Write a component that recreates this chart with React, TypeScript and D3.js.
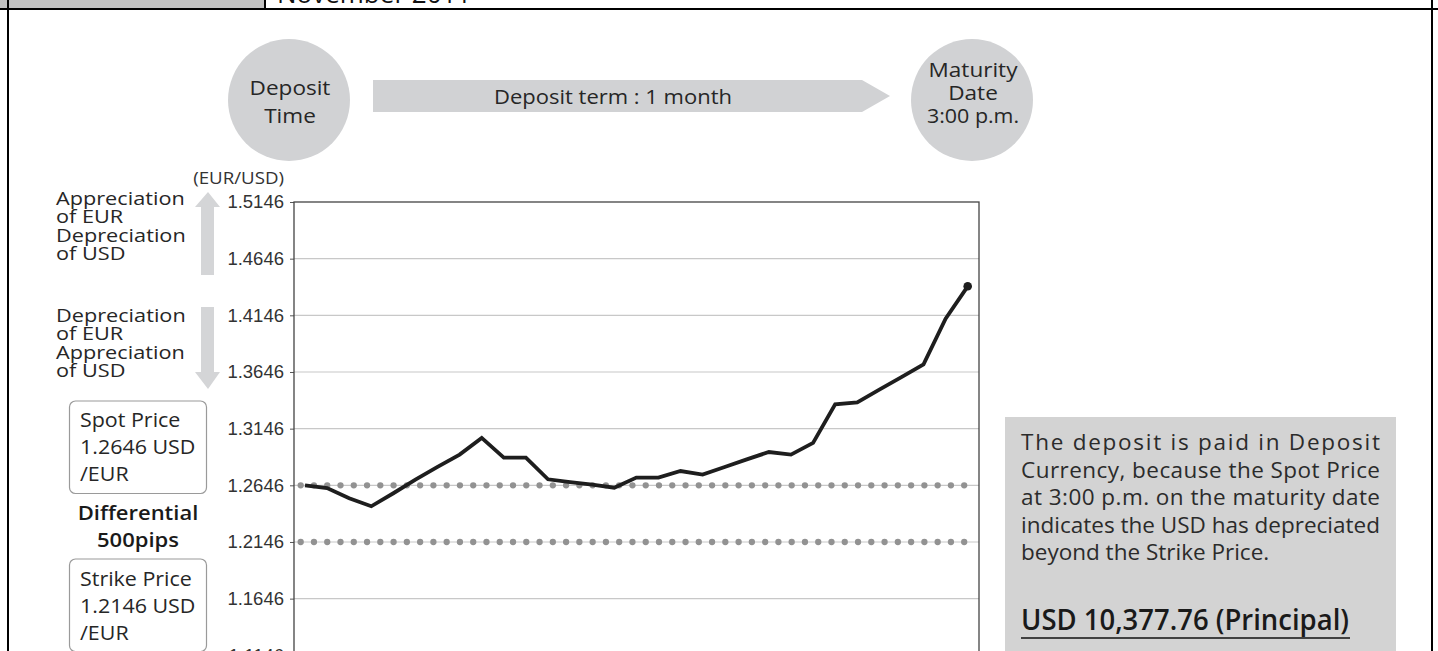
import React, { useEffect, useRef } from 'react';
import * as d3 from 'd3';

// EUR/USD daily rate over the one-month deposit term
const days = [1, 2, 3, 4, 5, 6, 7, 8, 9, 10, 11, 12, 13, 14, 15, 16, 17, 18, 19, 20, 21, 22, 23, 24, 25, 26, 27, 28, 29, 30, 31];
const rates = [
    1.2646, 1.2622, 1.2531, 1.2461, 1.2576, 1.2696, 1.2808, 1.2917, 1.3064, 1.2890,
    1.2890, 1.2699, 1.2675, 1.2652, 1.2625, 1.2714, 1.2714, 1.2772, 1.2740, 1.2808,
    1.2875, 1.2940, 1.2917, 1.3020, 1.3361, 1.3378, 1.3490, 1.3601, 1.3713, 1.4117,
    1.4402,
];
const yTicks = [1.5146, 1.4646, 1.4146, 1.3646, 1.3146, 1.2646, 1.2146, 1.1646, 1.1146];
const spotPrice = 1.2646;
const strikePrice = 1.2146;

const upLabel = ['Appreciation', 'of EUR', 'Depreciation', 'of USD'];
const downLabel = ['Depreciation', 'of EUR', 'Appreciation', 'of USD'];
const spotLabel = ['Spot Price', '1.2646 USD', '/EUR'];
const strikeLabel = ['Strike Price', '1.2146 USD', '/EUR'];
const diffLabel = ['Differential', '500pips'];
const noteLines = [
    'The deposit is paid in Deposit',
    'Currency, because the Spot Price',
    'at 3:00 p.m. on the maturity date',
    'indicates the USD has depreciated',
    'beyond the Strike Price.',
];

const SANS = '"Open Sans", "Noto Sans", sans-serif';
const ARIAL = '"Liberation Sans", Arial, sans-serif';

export default function App() {
    const svgRef = useRef<SVGSVGElement>(null);

    useEffect(() => {
        if (!svgRef.current) return;
        const svg = d3.select(svgRef.current);
        svg.selectAll('*').remove();

        // reference lettering is wider than Open Sans, so stretch it a bit
        const wideText = (t: string, tx: number, ty: number, size: number, anchor = 'start', weight = 400, fill = '#262626', sx = 1.1) => {
            svg.append('g').attr('transform', `translate(${tx},${ty}) scale(${sx},1)`)
                .append('text').attr('text-anchor', anchor)
                .attr('font-family', SANS).attr('font-size', size).attr('font-weight', weight)
                .attr('fill', fill).text(t);
        };

        const plot = { left: 294, right: 979, top: 202 };
        const x = d3.scaleLinear().domain([0, days.length - 1]).range([305, 967.7]);
        const y = d3.scaleLinear().domain([1.1146, 1.5146]).range([655.3, plot.top]);

        // page frame / header
        svg.append('rect').attr('x', 0).attr('y', 0).attr('width', 264).attr('height', 9).attr('fill', '#c0c0c0');
        svg.append('text').attr('x', 277).attr('y', 2.5).attr('font-family', SANS).attr('font-size', 26)
            .attr('fill', '#111').text('November 2011');
        svg.append('line').attr('x1', 265).attr('x2', 265).attr('y1', 0).attr('y2', 9).attr('stroke', '#000').attr('stroke-width', 2);
        svg.append('line').attr('x1', 0).attr('x2', 1438).attr('y1', 9).attr('y2', 9).attr('stroke', '#000').attr('stroke-width', 2);
        svg.append('line').attr('x1', 8).attr('x2', 8).attr('y1', 0).attr('y2', 651).attr('stroke', '#000').attr('stroke-width', 2);
        svg.append('line').attr('x1', 1432).attr('x2', 1432).attr('y1', 0).attr('y2', 651).attr('stroke', '#000').attr('stroke-width', 2);

        // timeline: circles and term arrow
        const circleFill = '#d1d2d4';
        svg.append('circle').attr('cx', 289).attr('cy', 100).attr('r', 61).attr('fill', circleFill);
        svg.append('circle').attr('cx', 972).attr('cy', 100).attr('r', 61).attr('fill', circleFill);
        svg.append('path').attr('d', 'M373,80 L862,80 L890,96 L862,112 L373,112 Z').attr('fill', circleFill);

        wideText('Deposit', 290, 95, 20.5, 'middle', 500);
        wideText('Time', 290, 123, 20.5, 'middle', 500);
        wideText('Maturity', 973, 77, 20.5, 'middle', 500);
        wideText('Date', 973, 100, 20.5, 'middle', 500);
        wideText('3:00 p.m.', 973, 123, 19.5, 'middle', 500);
        wideText('Deposit term : 1 month', 613, 104, 20, 'middle', 500);

        // left annotations (tight leading as in the reference)
        upLabel.forEach((t, i) => wideText(t, 56, 205 + i * 18.3, 17.5, 'start', 400, '#262626', 1.24));
        downLabel.forEach((t, i) => wideText(t, 56, 322 + i * 18.3, 17.5, 'start', 400, '#262626', 1.24));

        const arrowFill = '#d4d5d7';
        svg.append('path').attr('d', 'M201,275 L201,207 L195,207 L208,192 L220,207 L214,207 L214,275 Z').attr('fill', arrowFill);
        svg.append('path').attr('d', 'M201,307 L201,372 L195,372 L208,389 L220,372 L214,372 L214,307 Z').attr('fill', arrowFill);

        const box = (lines: string[], y0: number, boxTop: number) => {
            svg.append('rect').attr('x', 69.5).attr('y', boxTop).attr('width', 137).attr('height', 92.5)
                .attr('rx', 6).attr('fill', '#fff').attr('stroke', '#9a9a9a').attr('stroke-width', 1.2);
            lines.forEach((t, i) => wideText(t, 80, y0 + i * 27, 19.5));
        };
        box(spotLabel, 427, 401);
        box(strikeLabel, 586, 559);
        diffLabel.forEach((t, i) => wideText(t, 138, 520 + i * 26.5, 20, 'middle', 600, '#1a1a1a'));

        // plot
        wideText('(EUR/USD)', 284, 184, 17, 'end', 400, '#333');

        const g = svg.append('g');
        g.selectAll('.grid').data(yTicks.slice(1)).enter().append('line')
            .attr('x1', plot.left).attr('x2', plot.right)
            .attr('y1', d => y(d)).attr('y2', d => y(d))
            .attr('stroke', '#c8c8c8').attr('stroke-width', 1.2);

        const yAxis = d3.axisLeft(y).tickValues(yTicks).tickSize(4).tickPadding(6).tickFormat(d3.format('.4f'));
        const ax = g.append('g').attr('transform', `translate(${plot.left},0)`).call(yAxis);
        ax.select('.domain').remove();
        ax.selectAll('line').attr('stroke', '#555');
        ax.selectAll('text').attr('font-family', ARIAL).attr('font-size', 18.5).attr('fill', '#333');

        [spotPrice, strikePrice].forEach(v => {
            g.append('line').attr('x1', 300.7).attr('x2', 965).attr('y1', y(v)).attr('y2', y(v))
                .attr('stroke', '#929292').attr('stroke-width', 6.3).attr('stroke-linecap', 'round')
                .attr('stroke-dasharray', '0 13.27');
        });

        g.append('rect').attr('x', plot.left).attr('y', plot.top).attr('width', plot.right - plot.left).attr('height', 500)
            .attr('fill', 'none').attr('stroke', '#444').attr('stroke-width', 1.3);

        const line = d3.line<number>().x((_, i) => x(i)).y(d => y(d));
        g.append('path').datum(rates).attr('d', line).attr('fill', 'none')
            .attr('stroke', '#1e1e1e').attr('stroke-width', 3.8).attr('stroke-linejoin', 'miter');
        g.append('circle').attr('cx', x(rates.length - 1)).attr('cy', y(rates[rates.length - 1])).attr('r', 4.3).attr('fill', '#1e1e1e');

        // note box
        svg.append('rect').attr('x', 1005).attr('y', 417).attr('width', 391).attr('height', 260).attr('fill', '#d3d3d3');
        noteLines.forEach((t, i) => {
            const tx = svg.append('text').attr('x', 1021).attr('y', 450 + i * 27.5)
                .attr('font-family', SANS).attr('font-size', 22.5).attr('fill', '#2b2b2b').text(t);
            if (i < noteLines.length - 1) tx.attr('textLength', 359).attr('lengthAdjust', 'spacing');
        });
        svg.append('text').attr('x', 1021).attr('y', 630).attr('font-family', SANS).attr('font-size', 28)
            .attr('font-weight', 600).attr('fill', '#1a1a1a')
            .attr('textLength', 328).attr('lengthAdjust', 'spacingAndGlyphs')
            .text('USD 10,377.76 (Principal)');
        svg.append('line').attr('x1', 1021).attr('x2', 1350).attr('y1', 638).attr('y2', 638).attr('stroke', '#111').attr('stroke-width', 1.5);
    }, []);

    return (
        <div style={{ position: 'absolute', left: 0, top: 0 }}>
            <svg ref={svgRef} width={1438} height={651} style={{ display: 'block', background: '#fff' }} />
        </div>
    );
}
